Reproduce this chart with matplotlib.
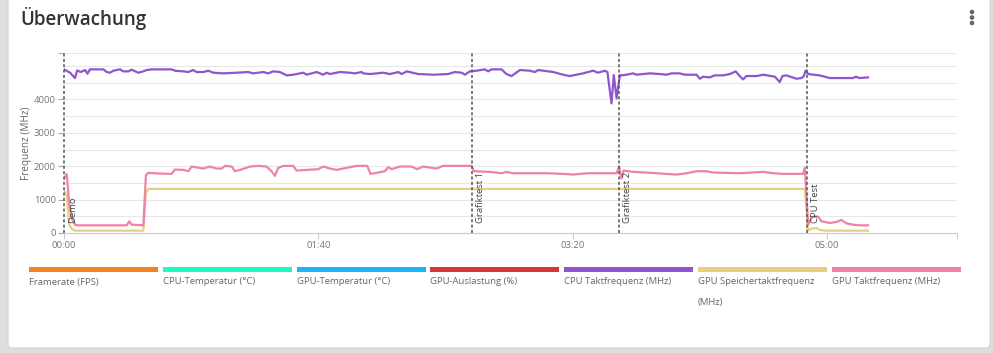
import matplotlib
matplotlib.use("Agg")
import matplotlib.pyplot as plt
from matplotlib.patches import FancyBboxPatch, Rectangle, Circle
from matplotlib.ticker import MultipleLocator

plt.rcParams["font.family"] = ["Open Sans", "DejaVu Sans"]

# ---- data (time in seconds, values in MHz) ----
cpu_t = [0, 2.4, 4.3, 5.2, 6.5, 8.3, 9.2, 10.2, 15.5, 16.8, 18.1, 19.4, 22, 23.3, 25.3,
         26.6, 29.2, 31.2, 32.5, 34.5, 42.3, 43.6, 46.9, 48.9, 50.8, 52.1, 54.7, 56.7,
         58.7, 62.6, 67.9, 72.4, 74.4, 78.3, 80.3, 82.2, 84.9, 87.5, 90.1, 94, 95.4,
         99.3, 101.9, 103.2, 104.5, 107.1, 108.4, 112.4, 114.3, 117, 117.6, 120.2,
         125.5, 128.1, 131.4, 132.7, 134.7, 139.2, 145.1, 151, 153.6, 156.3, 157.6,
         159.5, 162.2, 165.4, 166.7, 168, 172, 173.9, 175.9, 179.2, 183.1, 185.1,
         186.4, 192.3, 196.2, 198.8, 204, 208, 209.9, 212.6, 213.6, 215.2, 216.1,
         217.2, 218.5, 219.1, 221.1, 223.7, 225, 230.3, 234.2, 236.8, 238.8, 242, 244,
         248.6, 249.9, 251.2, 253.8, 255.8, 259.1, 261.7, 264, 265.6, 266.9, 268.2,
         272.2, 274.8, 279.4, 281.3, 282.4, 283.9, 287.9, 289.9, 290.8, 291.5, 292.5,
         297, 301, 304.9, 310.1, 311.2, 312.7, 316]
cpu_mhz = [4900, 4800, 4640, 4870, 4820, 4880, 4770, 4900, 4900, 4820, 4800, 4860, 4900,
           4840, 4840, 4890, 4800, 4840, 4880, 4900, 4900, 4860, 4840, 4820, 4880, 4820,
           4820, 4860, 4800, 4780, 4800, 4820, 4780, 4820, 4780, 4840, 4820, 4720, 4740,
           4800, 4740, 4820, 4740, 4800, 4760, 4800, 4820, 4800, 4780, 4820, 4780, 4760,
           4800, 4760, 4820, 4760, 4840, 4760, 4740, 4760, 4820, 4800, 4740, 4840, 4860,
           4900, 4840, 4900, 4900, 4760, 4700, 4880, 4860, 4820, 4880, 4820, 4740, 4700,
           4780, 4860, 4800, 4860, 4820, 3880, 4730, 4030, 4730, 4720, 4740, 4780, 4740,
           4780, 4760, 4740, 4780, 4780, 4740, 4740, 4620, 4680, 4660, 4720, 4720, 4760,
           4840, 4700, 4600, 4700, 4700, 4740, 4680, 4520, 4700, 4720, 4620, 4640, 4700,
           4860, 4760, 4720, 4640, 4640, 4640, 4680, 4640, 4660]

gpu_t = [0, 1.05, 2.1, 3, 4.3, 5, 24.6, 25.7, 26.6, 31.2, 32.2, 33.1, 37.7, 42.3, 43.6,
         46.9, 48.9, 50.2, 54.7, 57.4, 60, 62, 63.3, 65.9, 67.2, 69.2, 73.1, 76.4, 79.6,
         81.6, 82.9, 84.2, 86.2, 90.1, 91.4, 95.4, 99.9, 101.9, 104.5, 107.1, 112.4, 115,
         119.2, 120.5, 126.1, 127.4, 128.8, 132, 136.6, 138.8, 141.2, 146.4, 149, 160.2,
         161.1, 167.4, 172, 173.9, 176.5, 189.7, 196.2, 200.1, 206, 210.6, 217.2, 218.2,
         219.1, 220, 223.7, 228.9, 236.8, 240.7, 244.7, 248.6, 252.5, 255.1, 265.6,
         274.8, 278.7, 282.6, 290.5, 291.2, 291.8, 292.5, 293.8, 295.1, 296.4, 297.7,
         301, 303.6, 305.6, 307.5, 310.1, 312.7, 316]
gpu_mhz = [1630, 1770, 850, 450, 250, 230, 230, 350, 250, 230, 1730, 1800, 1780, 1770,
           1900, 1890, 1850, 1990, 1930, 1990, 1930, 1930, 2010, 1990, 1850, 1890, 1990,
           2010, 1990, 1850, 1710, 1950, 2010, 2010, 1870, 1890, 1910, 1990, 1930, 1890,
           1970, 2010, 2010, 1770, 1850, 1970, 1910, 1990, 1990, 1910, 1990, 1930, 2010,
           2010, 1850, 1830, 1790, 1830, 1790, 1790, 1770, 1750, 1790, 1790, 1790, 1990,
           1630, 1870, 1830, 1810, 1770, 1750, 1790, 1850, 1850, 1810, 1790, 1830, 1790,
           1770, 1770, 1950, 1150, 250, 450, 500, 490, 350, 300, 330, 390, 290, 250, 230,
           230]

mem_t = [0, 1, 2.1, 3, 4.3, 31.2, 32.2, 33.1, 291.2, 292.5, 293.8, 295.8, 297, 299.6, 316]
mem_mhz = [1280, 1150, 250, 130, 70, 70, 1200, 1320, 1320, 70, 130, 150, 90, 70, 70]

event_t = [0, 160.2, 218.2, 292]
event_names = ["Demo", "Grafiktest 1", "Grafiktest 2", "CPU Test"]

legend_names = ["Framerate (FPS)", "CPU-Temperatur (°C)", "GPU-Temperatur (°C)",
                "GPU-Auslastung (%)", "CPU Taktfrequenz (MHz)",
                "GPU Speichertaktfrequenz\n(MHz)", "GPU Taktfrequenz (MHz)"]
legend_colors = ["#f5821f", "#1cfcc0", "#1bb4f6", "#d63636", "#8f55cf", "#e9cf80", "#ee82a8"]

x_ticks = [0, 100, 200, 300]
y_ticks = [0, 1000, 2000, 3000, 4000]

W, H = 993, 353
fig = plt.figure(figsize=(W / 100, H / 100), dpi=100)
fig.patch.set_facecolor("#dedede")

# card background + decorations in pixel coordinates
bg = fig.add_axes([0, 0, 1, 1], zorder=0)
bg.set_xlim(0, W)
bg.set_ylim(H, 0)
bg.axis("off")
bg.add_patch(FancyBboxPatch((8, -6), 982, 354, boxstyle="round,pad=0,rounding_size=4",
                            facecolor="white", edgecolor="#d2d2d2", lw=0.8))
bg.text(20, 18, "Überwachung", fontsize=13.5, fontweight="semibold", color="#333333",
        va="center", ha="left")
for dy in (12, 17.5, 23):
    bg.add_patch(Circle((972, dy), 1.6, color="#666666"))

# legend strip
for i, (name, col) in enumerate(zip(legend_names, legend_colors)):
    x0 = 29 + i * 133.8
    bg.add_patch(Rectangle((x0, 266.5), 129, 5, facecolor=col, edgecolor="none"))
    bg.text(x0, 277.5, name, fontsize=6.8, color="#666666", va="top", ha="left",
            linespacing=2.7)

# main chart
ax = fig.add_axes([64 / W, 1 - 233 / H, 893 / W, 180 / H], zorder=1)
ax.set_facecolor("none")
ax.set_xlim(0, 351)
ax.set_ylim(0, 5390)

ax.plot(mem_t, mem_mhz, color=legend_colors[5], lw=1.6, zorder=3)
ax.plot(gpu_t, gpu_mhz, color=legend_colors[6], lw=1.6, zorder=4)
ax.plot(cpu_t, cpu_mhz, color=legend_colors[4], lw=1.6, zorder=5)

for t, name in zip(event_t, event_names):
    ax.axvline(t, color="#555555", lw=1.1, ls=(0, (2, 1.5)), zorder=6, clip_on=False)
    ax.annotate(name, xy=(t, 0), xytext=(3, 7), textcoords="offset points",
                rotation=90, ha="left", va="bottom", fontsize=6.8, color="#444444",
                zorder=7)

ax.yaxis.set_minor_locator(MultipleLocator(500))
ax.set_yticks(y_ticks + [5390], labels=[str(v) for v in y_ticks] + [""])
ax.set_xticks(x_ticks + [351], labels=[f"{v // 60:02d}:{v % 60:02d}" for v in x_ticks] + [""])
ax.grid(which="both", axis="y", color="#e8e8e8", lw=0.8, zorder=0)
ax.tick_params(axis="y", which="minor", length=0)
ax.tick_params(axis="y", which="major", length=4, color="#aaaaaa", labelsize=6.8,
               labelcolor="#777777", pad=2)
ax.tick_params(axis="x", length=4, color="#cccccc", labelsize=6.8, labelcolor="#777777", pad=2)
for side in ("top", "right", "left"):
    ax.spines[side].set_visible(False)
ax.spines["bottom"].set_color("#cccccc")
ax.set_ylabel("Frequenz (MHz)", fontsize=7.2, color="#666666", labelpad=1)

fig.savefig("out.png", dpi=100, facecolor=fig.get_facecolor())
